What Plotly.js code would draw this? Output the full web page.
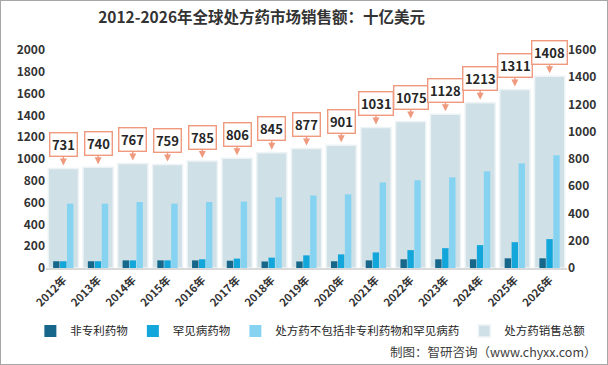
<!DOCTYPE html>
<html>
<head>
<meta charset="utf-8">
<script src="https://cdn.plot.ly/plotly-3.0.1.min.js"></script>
<style>
html,body{margin:0;padding:0;background:#fff;}
#chart{width:606px;height:363px;border:1px solid #a6a6a6;}
</style>
</head>
<body>
<div id="chart"></div>
<script>
const years = ['2012年','2013年','2014年','2015年','2016年','2017年','2018年','2019年','2020年','2021年','2022年','2023年','2024年','2025年','2026年'];
const nonPatent = [62, 62, 70, 70, 70, 67, 60, 60, 62, 70, 80, 80, 80, 89, 89];
const orphan = [62, 62, 70, 70, 80, 86, 95, 116, 125, 143, 164, 182, 210, 237, 265];
const otherRx = [590, 590, 605, 590, 605, 610, 648, 665, 676, 785, 805, 832, 887, 960, 1034];
const totalRx = [731, 740, 767, 759, 785, 806, 845, 877, 901, 1031, 1075, 1128, 1213, 1311, 1408];

const seriesNames = ['非专利药物', '罕见病药物', '处方药不包括非专利药物和罕见病药', '处方药销售总额'];
const FONT = '"Noto Sans CJK SC", "Noto Sans", sans-serif';

const traces = [
  {type:'bar', name:seriesNames[3], x:years, y:totalRx, yaxis:'y',
   width:0.87, offset:-0.435, legendrank:4,
   marker:{color:'#d0e0e7', line:{color:'#eef4f6', width:1.5}}},
  {type:'bar', name:seriesNames[0], x:years, y:nonPatent, yaxis:'y2', legendrank:1,
   width:0.185, offset:-0.295, marker:{color:'#17678a'}},
  {type:'bar', name:seriesNames[1], x:years, y:orphan, yaxis:'y2', legendrank:2,
   width:0.185, offset:-0.095, marker:{color:'#12a6da'}},
  {type:'bar', name:seriesNames[2], x:years, y:otherRx, yaxis:'y2', legendrank:3,
   width:0.185, offset:0.105, marker:{color:'#86d3f1'}}
];

const annotations = years.map((yr, i) => ({
  x: yr, y: totalRx[i], xref:'x', yref:'y',
  text: String(totalRx[i]),
  showarrow:true, ax:0, ay:-24, arrowhead:2, arrowsize:1, arrowwidth:1.4,
  arrowcolor:'#ef9a7e', standoff:3,
  bgcolor:'#ffffff', bordercolor:'#ef9a7e', borderwidth:1.4, borderpad:1.5,
  font:{family:FONT, size:13, color:'#262626', weight:'bold'}
}));
annotations.push({
  xref:'paper', yref:'paper', x:1.061, y:-0.385, xanchor:'right', yanchor:'middle',
  showarrow:false, text:'制图：智研咨询（www.chyxx.com）',
  font:{family:FONT, size:12.5, color:'#404040'}
});

const layout = {
  width:606, height:363,
  margin:{l:45, r:40, t:49, b:96},
  paper_bgcolor:'#ffffff', plot_bgcolor:'rgba(0,0,0,0)',
  title:{text:'<b>2012-2026年全球处方药市场销售额：十亿美元</b>', x:0.43, xanchor:'center', y:0.955, yanchor:'middle',
         font:{family:FONT, size:15.5, color:'#333333'}},
  showlegend:true,
  legend:{orientation:'h', x:-0.03, y:-0.222, xanchor:'left', yanchor:'top',
          font:{family:FONT, size:11.5, color:'#262626'}, traceorder:'normal',
          itemwidth:30, tracegroupgap:0},
  barmode:'overlay',
  xaxis:{type:'category', range:[-0.5,14.5], tickangle:-45, showline:true, linecolor:'#d9d9d9', linewidth:1.5,
         ticks:'', showgrid:false, zeroline:false,
         tickfont:{family:FONT, size:11, color:'#333333', weight:'bold'}},
  yaxis:{range:[0,1600], dtick:200, side:'right', showgrid:false, zeroline:false, showline:false, ticks:'',
         tickfont:{family:FONT, size:12, color:'#333333', weight:'bold'}},
  yaxis2:{range:[0,2000], dtick:200, side:'left', overlaying:'y', showgrid:false, zeroline:false, showline:false, ticks:'',
          tickfont:{family:FONT, size:12, color:'#333333', weight:'bold'}},
  annotations: annotations
};

Plotly.newPlot('chart', traces, layout, {displayModeBar:false, staticPlot:true});
</script>
</body>
</html>
